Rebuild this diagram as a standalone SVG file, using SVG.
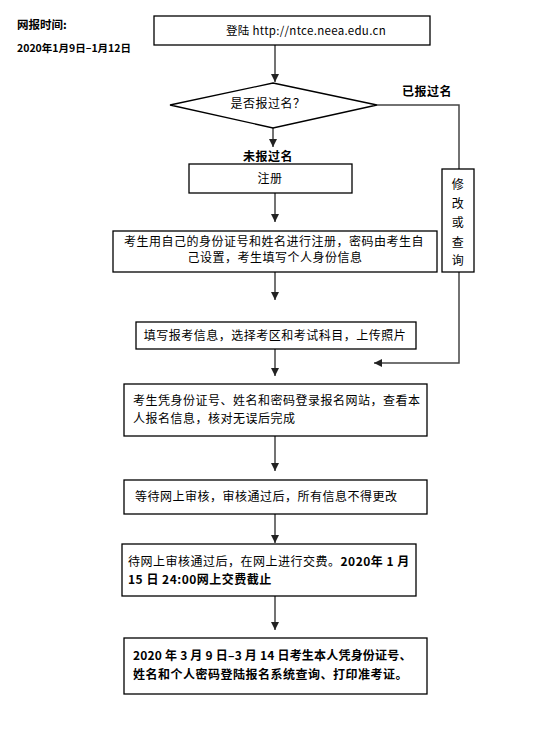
<svg xmlns="http://www.w3.org/2000/svg" width="544" height="731" viewBox="0 0 544 731">
<style>
.bx{fill:#fff;stroke:#000;stroke-width:1.3}
.t{font-family:"Noto Sans CJK SC","Liberation Sans",sans-serif;font-size:12px;fill:#000;letter-spacing:0.5px}
.b{font-weight:bold}
.c{text-anchor:middle}
.cn{fill:none;stroke:#444;stroke-width:1.5}
</style>
<defs>
<marker id="ah" markerUnits="userSpaceOnUse" markerWidth="9" markerHeight="8" refX="8" refY="4" orient="auto">
<path d="M0,0 L8,4 L0,8 z" fill="#222"/>
</marker>
</defs>
<rect width="544" height="731" fill="#fff"/>
<g id="title">
<text class="t b" x="17" y="29" style="font-size:11.5px;letter-spacing:0">网报时间:</text>
<text class="t b" x="17" y="52" style="font-size:10.5px;letter-spacing:0">2020年1月9日–1月12日</text>
</g>
<g id="connectors">
<line class="cn" x1="275" y1="45" x2="275" y2="82" marker-end="url(#ah)"/>
<line class="cn" x1="273" y1="128" x2="273" y2="147" marker-end="url(#ah)"/>
<polyline class="cn" points="377,105 459,105 459,169"/>
<polyline class="cn" points="459,272 459,363 374,363" marker-end="url(#ah)"/>
<line class="cn" x1="275" y1="193" x2="275" y2="222" marker-end="url(#ah)"/>
<line class="cn" x1="275" y1="272" x2="275" y2="300" marker-end="url(#ah)"/>
<line class="cn" x1="275" y1="349" x2="275" y2="376" marker-end="url(#ah)"/>
<line class="cn" x1="275" y1="436" x2="275" y2="471" marker-end="url(#ah)"/>
<line class="cn" x1="275" y1="514" x2="275" y2="543" marker-end="url(#ah)"/>
<line class="cn" x1="275" y1="596" x2="275" y2="630" marker-end="url(#ah)"/>
</g>
<g id="login">
<rect class="bx" x="154" y="16" width="276" height="29"/>
<text class="t c" x="306" y="35" style="font-size:11.5px;letter-spacing:0.3px">登陆 http://ntce.neea.edu.cn</text>
</g>
<g id="decision">
<polygon class="bx" points="273,83 377,105 273,128 170,105"/>
<text class="t c" x="268" y="108">是否报过名？</text>
</g>
<g id="label-yes">
<text class="t b" x="402" y="96">已报过名</text>
</g>
<g id="label-no">
<text class="t b c" x="268" y="161">未报过名</text>
</g>
<g id="modify">
<rect class="bx" x="442" y="169" width="32" height="103"/>
<text class="t c" x="458" y="189">修</text>
<text class="t c" x="458" y="208">改</text>
<text class="t c" x="458" y="227">或</text>
<text class="t c" x="458" y="247">查</text>
<text class="t c" x="458" y="265">询</text>
</g>
<g id="register">
<rect class="bx" x="189" y="164" width="163" height="29"/>
<text class="t c" x="270" y="183">注册</text>
</g>
<g id="step-id">
<rect class="bx" x="113" y="231" width="324" height="41"/>
<text class="t c" x="274" y="246">考生用自己的身份证号和姓名进行注册，密码由考生自</text>
<text class="t c" x="275" y="262">己设置，考生填写个人身份信息</text>
</g>
<g id="step-info">
<rect class="bx" x="136" y="322" width="280" height="27"/>
<text class="t c" x="275" y="340">填写报考信息，选择考区和考试科目，上传照片</text>
</g>
<g id="step-check">
<rect class="bx" x="124" y="384" width="303" height="52"/>
<text class="t" x="133" y="405">考生凭身份证号、姓名和密码登录报名网站，查看本</text>
<text class="t" x="133" y="423">人报名信息，核对无误后完成</text>
</g>
<g id="step-review">
<rect class="bx" x="124" y="480" width="303" height="34"/>
<text class="t" x="135" y="501">等待网上审核，审核通过后，所有信息不得更改</text>
</g>
<g id="step-pay">
<rect class="bx" x="122" y="544" width="294" height="52"/>
<text class="t" x="128" y="566">待网上审核通过后，在网上进行交费。<tspan class="b">2020年 1 月</tspan></text>
<text class="t b" x="128" y="584">15 日 24:00网上交费截止</text>
</g>
<g id="step-print">
<rect class="bx" x="124" y="638" width="303" height="56"/>
<text class="t b" x="133" y="660" style="letter-spacing:0.2px">2020 年 3 月 9 日–3 月 14 日考生本人凭身份证号、</text>
<text class="t b" x="133" y="679">姓名和个人密码登陆报名系统查询、打印准考证。</text>
</g>
</svg>
